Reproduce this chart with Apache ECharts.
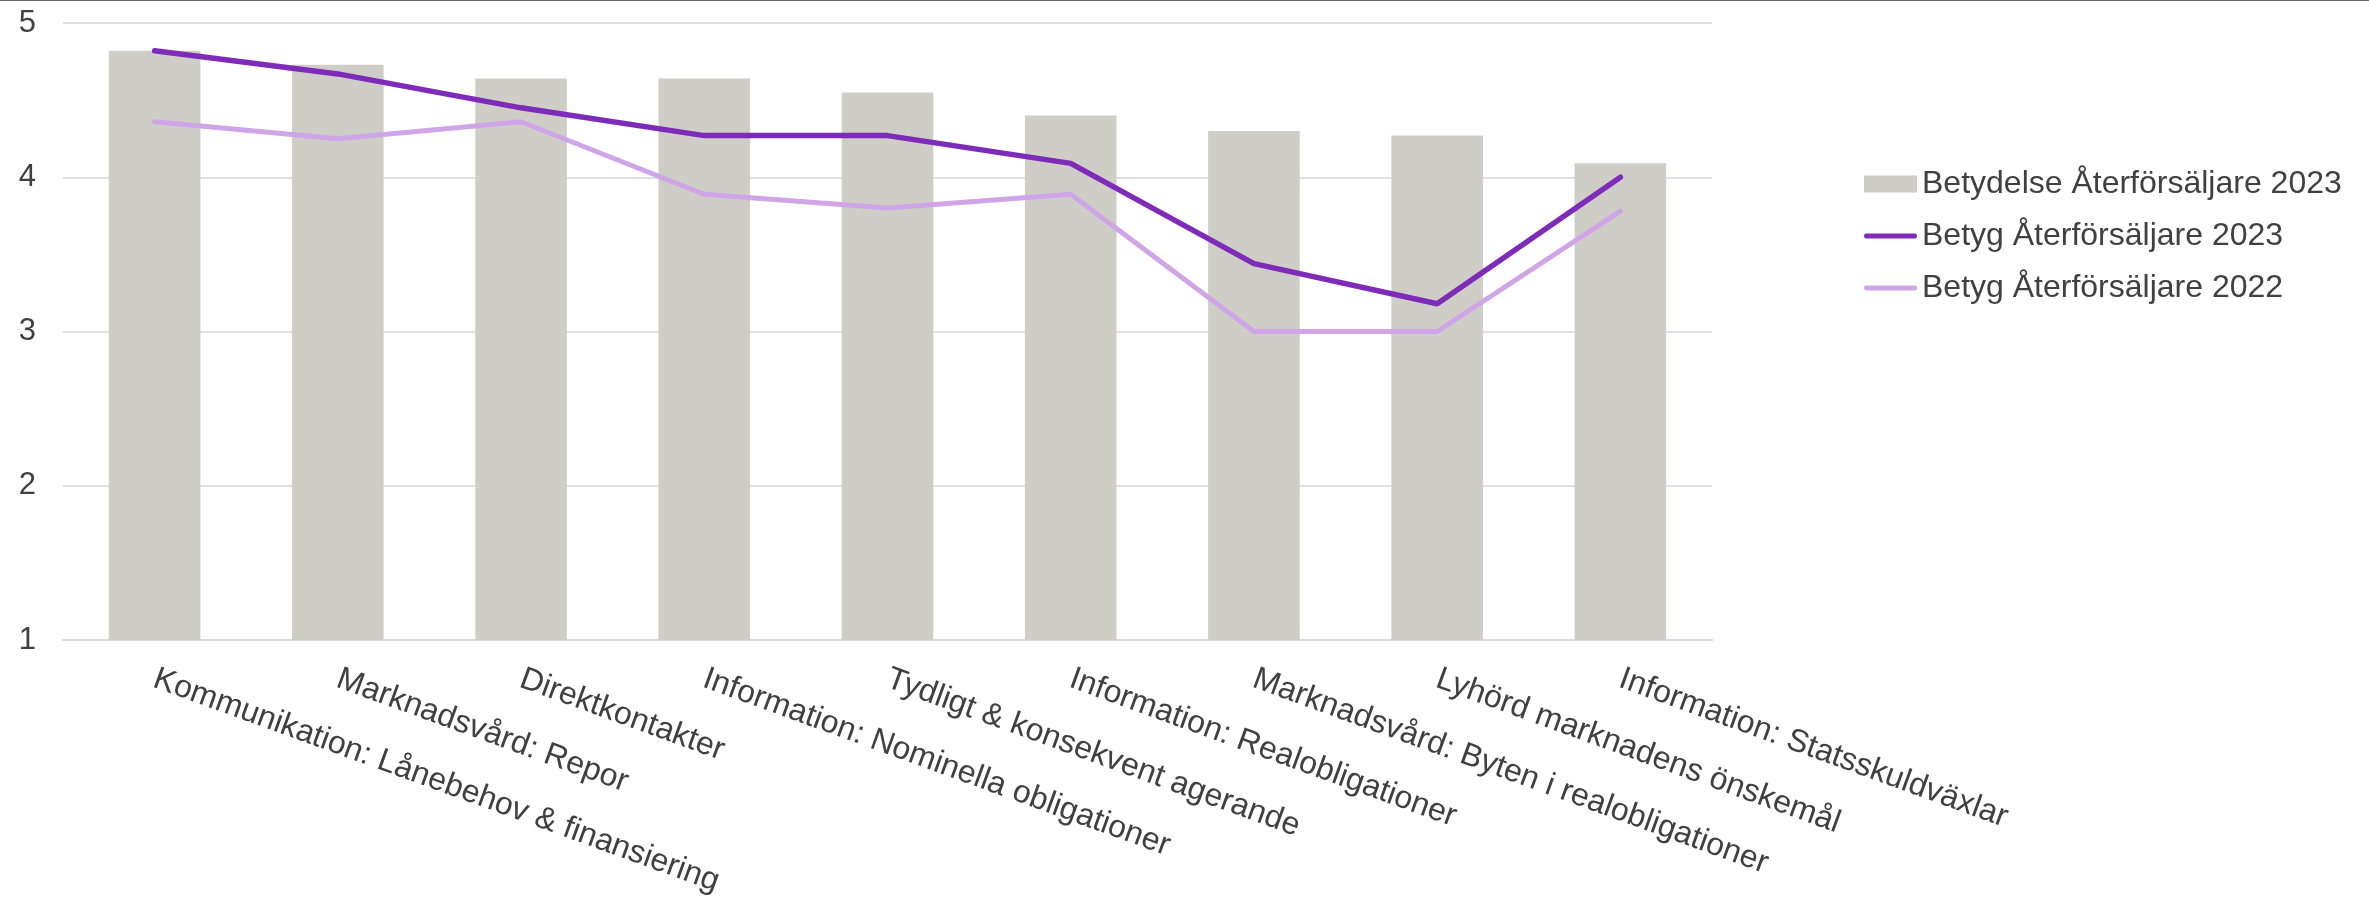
<!DOCTYPE html>
<html>
<head>
<meta charset="utf-8">
<title>Betydelse och betyg Återförsäljare</title>
<script src="https://cdn.jsdelivr.net/npm/echarts@6/dist/echarts.min.js"></script>
<style>
  html, body { margin: 0; padding: 0; background: #fff; }
  #main { width: 2369px; height: 897px; border-top: 1px solid #666; }
</style>
</head>
<body>
<div id="main"></div>
<script>
// kategorier (x-axeln)
const categories = [
  'Kommunikation: Lånebehov & finansiering',
  'Marknadsvård: Repor',
  'Direktkontakter',
  'Information: Nominella obligationer',
  'Tydligt & konsekvent agerande',
  'Information: Realobligationer',
  'Marknadsvård: Byten i realobligationer',
  'Lyhörd marknadens önskemål',
  'Information: Statsskuldväxlar'
]

// serier
const betydelse2023 = [4.82, 4.73, 4.64, 4.64, 4.55, 4.40, 4.30, 4.27, 4.09]
const betyg2023 = [4.82, 4.67, 4.45, 4.27, 4.27, 4.09, 3.44, 3.18, 4.00]
const betyg2022 = [4.36, 4.25, 4.36, 3.89, 3.80, 3.89, 3.00, 3.00, 3.78]

const seriesNames = ['Betydelse Återförsäljare 2023', 'Betyg Återförsäljare 2023', 'Betyg Återförsäljare 2022']

const textColor = '#404040'
const font = 'Arial, "Liberation Sans", sans-serif'
const mörklila = '#7f2bb9'
const ljuslila = '#cfa5e8'
// tjock linje som legendikon
const linjeIkon = 'path://M2,0 L53,0 Q55,0 55,2.5 Q55,5 53,5 L2,5 Q0,5 0,2.5 Q0,0 2,0 Z'

let chart = echarts.init(document.getElementById('main'))

let option = {
  animation: false,
  textStyle: { fontFamily: font },
  grid: {
    left: 63,
    right: 657,
    top: 22,
    bottom: 258,
    outerBoundsMode: 'none'
  },
  legend: {
    orient: 'vertical',
    left: 1864,
    top: 167,
    padding: 0,
    itemWidth: 53,
    itemHeight: 17,
    itemGap: 20,
    textStyle: { fontSize: 32, color: textColor, fontFamily: font },
    data: [
      { name: seriesNames[0], icon: 'rect' },
      { name: seriesNames[1], icon: linjeIkon, itemStyle: { color: mörklila } },
      { name: seriesNames[2], icon: linjeIkon, itemStyle: { color: ljuslila } }
    ]
  },
  xAxis: {
    type: 'category',
    data: categories,
    axisTick: { show: false },
    axisLine: { lineStyle: { color: '#d9d9d9', width: 2 } },
    axisLabel: {
      interval: 0,
      rotate: -20,
      margin: 38,
      fontSize: 32,
      color: textColor,
      fontFamily: font
    }
  },
  yAxis: {
    type: 'value',
    min: 1,
    max: 5,
    interval: 1,
    axisLine: { show: false },
    axisTick: { show: false },
    splitLine: { lineStyle: { color: '#e0e0e0', width: 2 } },
    axisLabel: { fontSize: 31, color: textColor, margin: 27, fontFamily: font }
  },
  series: [
    {
      name: seriesNames[0],
      type: 'bar',
      data: betydelse2023,
      barCategoryGap: '50%',
      itemStyle: { color: '#cecec6' }
    },
    {
      name: seriesNames[1],
      type: 'line',
      data: betyg2023,
      symbol: 'none',
      z: 4,
      lineStyle: { color: mörklila, width: 5.5, cap: 'round' },
      itemStyle: { color: mörklila }
    },
    {
      name: seriesNames[2],
      type: 'line',
      data: betyg2022,
      symbol: 'none',
      z: 3,
      lineStyle: { color: ljuslila, width: 5, cap: 'round' },
      itemStyle: { color: ljuslila }
    }
  ]
}

chart.setOption(option)
</script>
</body>
</html>
